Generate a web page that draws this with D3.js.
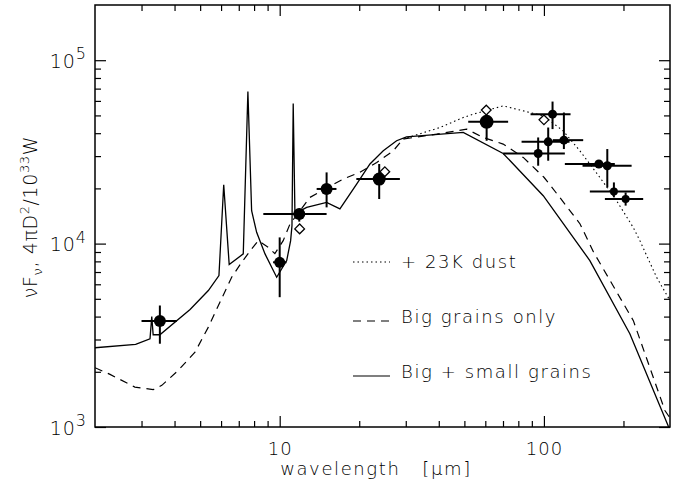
<!DOCTYPE html>
<html>
<head>
<meta charset="utf-8">
<script src="https://cdn.jsdelivr.net/npm/d3@7"></script>
<style>
  body { margin: 0; background: #fff; }
  text { font-family: "DejaVu Sans", sans-serif; font-weight: 200; fill: #000; }
</style>
</head>
<body>
<div id="chart"></div>
<script>
// model curves: wavelength (micron) and flux
var solidWave = [2, 2.85, 3.23, 3.28, 3.32, 3.52, 4.58, 5.37, 5.89, 6.14, 6.44, 7.28, 7.58, 7.83, 8.18, 8.8, 9.74, 10.63, 11.0, 11.13, 11.25, 11.42, 12.65, 15.05, 16.9, 19.55, 21.96, 24.66, 27.7, 30.2, 49.5, 70.1, 99.4, 149.2, 211.4, 300];
var solidFlux = [2705, 2820, 3027, 4005, 3185, 3185, 4373, 5548, 6695, 20950, 7687, 8790, 67450, 15120, 11520, 8790, 6553, 8080, 10380, 12530, 58040, 14570, 15760, 16780, 15450, 21130, 27170, 32060, 36370, 38230, 40360, 31010, 18250, 8080, 3224, 960];

var dashWave = [2, 2.28, 2.83, 3.32, 3.58, 4.13, 4.78, 5.37, 5.94, 6.58, 7.18, 7.83, 8.3, 9.05, 9.59, 10.31, 10.94, 13.02, 14.84, 17.4, 20.1, 23.3, 26.9, 29.3, 39.3, 51, 58.9, 70.1, 83.5, 100, 115, 137, 154, 218, 287, 300];
var dashFlux = [2105, 1936, 1651, 1598, 1687, 2036, 2559, 3503, 4792, 6553, 7910, 9354, 10380, 9550, 8820, 10380, 12790, 17870, 19860, 22490, 24450, 27710, 32060, 37150, 39520, 42110, 37910, 34890, 29500, 23000, 17800, 12800, 9000, 3800, 1230, 1120];

var dotWave = [29.3, 40.4, 49.5, 54, 70.1, 88.5, 99.4, 118.2, 136.8, 162.8, 188.4, 217.6, 230.7, 266.9, 300];
var dotFlux = [37150, 42950, 48700, 50800, 56370, 51860, 49770, 41210, 32060, 22960, 17130, 12270, 10380, 6553, 4895];

// photometry (filled points) with error ranges
var ptWave = [3.52, 10.0, 11.86, 15.05, 23.8, 60.7, 107.8, 103.8, 119, 95.1, 161.4, 173.7, 184, 203.8];
var ptFlux = [3780, 7910, 14510, 19860, 22490, 46130, 50800, 35890, 36650, 31000, 27170, 26590, 19260, 17500];
var ptWaveLo = [3.0, 9.44, 8.67, 13.8, 19.5, 51.7, 89, 82.3, 108, 70.1, 120, 140, 149.2, 170.1];
var ptWaveHi = [4.08, 10.61, 15.05, 16.4, 28.5, 73.2, 126.1, 125, 140.8, 120, 185.5, 214.7, 220.9, 237.5];
var ptFluxLo = [2845, 5103, 13180, 15760, 17500, 36370, 42110, 28310, 32780, 26590, 25820, 20250, 17870, 16110];
var ptFluxHi = [4597, 10810, 15510, 24450, 27170, 50800, 59500, 42950, 51860, 37910, 28370, 32780, 21560, 18990];
var ptSize = [6, 5.5, 6, 6, 6.5, 7, 4.5, 4.5, 4.5, 4.5, 4.5, 4.5, 4, 4];

// open diamonds
var diaWave = [11.9, 25.0, 60.5, 100];
var diaFlux = [12030, 24660, 53470, 47300];

var legendLabels = ["+ 23K dust", "Big grains only", "Big + small grains"];
var legendDash = ["1.5,3", "8,6", null];

var xMajor = [10, 100];
var xMinor = [3, 4, 5, 6, 7, 8, 9, 20, 30, 40, 50, 60, 70, 80, 90, 200];
var yMajor = [1e3, 1e4, 1e5];
var yMinor = [2e3, 3e3, 4e3, 5e3, 6e3, 7e3, 8e3, 9e3, 2e4, 3e4, 4e4, 5e4, 6e4, 7e4, 8e4, 9e4];

var margin = { top: 5, right: 10, bottom: 66, left: 95 },
    width = 680 - margin.left - margin.right,
    height = 493 - margin.top - margin.bottom;

var svg = d3.select("#chart").append("svg")
    .attr("width", 680)
    .attr("height", 493)
    .append("g")
    .attr("transform", "translate(" + margin.left + "," + margin.top + ")");

var x = d3.scaleLog().domain([2, 300]).range([0, width]);
var y = d3.scaleLog().domain([1000, 2e5]).range([height, 0]);

svg.append("clipPath").attr("id", "clip")
    .append("rect").attr("width", width).attr("height", height);

// axes: ticks point inward on all four sides
function styleAxis(g) {
    g.select(".domain").remove();
    g.selectAll("line").attr("stroke", "#000").attr("stroke-width", 1.2);
}

svg.append("g").attr("transform", "translate(0," + height + ")")
    .call(d3.axisBottom(x).tickValues(xMajor).tickSize(-11).tickPadding(15).tickFormat(d3.format("d")))
    .call(styleAxis)
    .selectAll("text").attr("font-size", 18).attr("font-family", "DejaVu Sans").attr("letter-spacing", 1);
svg.append("g").attr("transform", "translate(0," + height + ")")
    .call(d3.axisBottom(x).tickValues(xMinor).tickSize(-6).tickFormat(""))
    .call(styleAxis);
svg.append("g")
    .call(d3.axisTop(x).tickValues(xMajor).tickSize(-11).tickFormat(""))
    .call(styleAxis);
svg.append("g")
    .call(d3.axisTop(x).tickValues(xMinor).tickSize(-6).tickFormat(""))
    .call(styleAxis);

var yAx = svg.append("g")
    .call(d3.axisLeft(y).tickValues(yMajor).tickSize(-11).tickPadding(12).tickFormat(""))
    .call(styleAxis);
yAx.selectAll(".tick text")
    .attr("font-size", 19).attr("dy", "0.38em").attr("dx", "3")
    .each(function (d) {
        var t = d3.select(this);
        t.append("tspan").attr("letter-spacing", 1).text("10");
        t.append("tspan").attr("dy", "-0.55em").attr("font-size", 16).text(Math.round(Math.log10(d)));
    });
svg.append("g")
    .call(d3.axisLeft(y).tickValues(yMinor).tickSize(-6).tickFormat(""))
    .call(styleAxis);
svg.append("g").attr("transform", "translate(" + width + ",0)")
    .call(d3.axisRight(y).tickValues(yMajor).tickSize(-11).tickFormat(""))
    .call(styleAxis);
svg.append("g").attr("transform", "translate(" + width + ",0)")
    .call(d3.axisRight(y).tickValues(yMinor).tickSize(-6).tickFormat(""))
    .call(styleAxis);

// frame
svg.append("rect")
    .attr("width", width).attr("height", height)
    .attr("fill", "none").attr("stroke", "#000").attr("stroke-width", 1.5);

// model lines
var line = d3.line().x(d => x(d[0])).y(d => y(d[1]));
var plot = svg.append("g").attr("clip-path", "url(#clip)");

plot.append("path")
    .attr("d", line(dotWave.map((w, i) => [w, dotFlux[i]])))
    .attr("fill", "none").attr("stroke", "#000").attr("stroke-width", 1.1)
    .attr("stroke-dasharray", "1.5,3");
plot.append("path")
    .attr("d", line(dashWave.map((w, i) => [w, dashFlux[i]])))
    .attr("fill", "none").attr("stroke", "#000").attr("stroke-width", 1.2)
    .attr("stroke-dasharray", "8,6");
plot.append("path")
    .attr("d", line(solidWave.map((w, i) => [w, solidFlux[i]])))
    .attr("fill", "none").attr("stroke", "#000").attr("stroke-width", 1.3);

// error bars and filled points
var pts = ptWave.map(function (w, i) {
    return { w: w, f: ptFlux[i], wl: ptWaveLo[i], wh: ptWaveHi[i], fl: ptFluxLo[i], fh: ptFluxHi[i], r: ptSize[i] };
});
plot.selectAll(".xerr").data(pts).join("line")
    .attr("class", "xerr")
    .attr("x1", d => x(d.wl)).attr("x2", d => x(d.wh))
    .attr("y1", d => y(d.f)).attr("y2", d => y(d.f))
    .attr("stroke", "#000").attr("stroke-width", 2);
plot.selectAll(".yerr").data(pts).join("line")
    .attr("class", "yerr")
    .attr("x1", d => x(d.w)).attr("x2", d => x(d.w))
    .attr("y1", d => y(d.fl)).attr("y2", d => y(d.fh))
    .attr("stroke", "#000").attr("stroke-width", 2);
plot.selectAll(".pt").data(pts).join("circle")
    .attr("class", "pt")
    .attr("cx", d => x(d.w)).attr("cy", d => y(d.f))
    .attr("r", d => d.r).attr("fill", "#000");

// open diamonds
plot.selectAll(".dia").data(diaWave.map((w, i) => [w, diaFlux[i]])).join("path")
    .attr("class", "dia")
    .attr("transform", d => "translate(" + x(d[0]) + "," + y(d[1]) + ")")
    .attr("d", d3.symbol(d3.symbolDiamond2, 60))
    .attr("fill", "#fff").attr("stroke", "#000").attr("stroke-width", 1.3);

// legend
var leg = svg.selectAll(".leg").data(legendLabels).join("g")
    .attr("class", "leg")
    .attr("transform", (d, i) => "translate(" + (353 - margin.left) + "," + (262 + i * 55 - margin.top) + ")");
leg.append("line")
    .attr("x1", 0).attr("x2", 37).attr("y1", (d, i) => i === 0 ? 0 : 4).attr("y2", (d, i) => i === 0 ? 0 : 4)
    .attr("stroke", "#000").attr("stroke-width", 1.2)
    .attr("stroke-dasharray", (d, i) => legendDash[i]);
leg.append("text")
    .attr("x", 48).attr("y", 6)
    .attr("font-size", 18).attr("letter-spacing", 1.6)
    .text(d => d);

// axis titles
svg.append("text")
    .attr("x", 376 - margin.left).attr("y", height + 48)
    .attr("text-anchor", "middle").attr("font-size", 18).attr("letter-spacing", 1.6)
    .text("wavelength\u00a0\u00a0\u00a0[\u03bcm]");

var yl = svg.append("text")
    .attr("transform", "translate(" + (37 - margin.left) + "," + (217 - margin.top) + ") rotate(-90)")
    .attr("text-anchor", "middle").attr("font-size", 19).attr("letter-spacing", 0.6);
yl.append("tspan").text("\u03bdF");
yl.append("tspan").attr("dy", 5).attr("font-size", 13).text("\u03bd");
yl.append("tspan").attr("dy", -5).text(",\u00a04\u03c0D");
yl.append("tspan").attr("dy", -8).attr("font-size", 13).text("2");
yl.append("tspan").attr("dy", 8).text("/10");
yl.append("tspan").attr("dy", -8).attr("font-size", 13).text("33");
yl.append("tspan").attr("dy", 8).text("W");
</script>
</body>
</html>
